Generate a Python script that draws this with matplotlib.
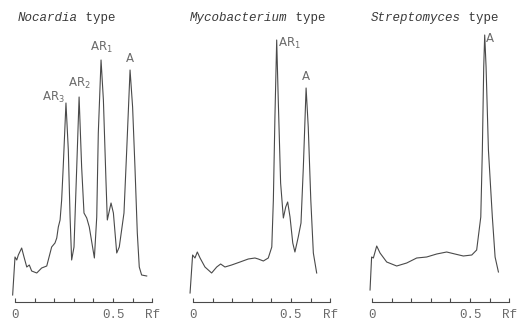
import numpy as np
import matplotlib.pyplot as plt

# Rf positions and detector signal (arbitrary units)
nocardia_rf = [-0.012, 0.0, 0.009, 0.017, 0.034, 0.046, 0.060, 0.073, 0.085, 0.111,
               0.136, 0.162, 0.187, 0.204, 0.213, 0.221, 0.230, 0.238, 0.246, 0.260,
               0.272, 0.281, 0.289, 0.301, 0.315, 0.327, 0.340, 0.352, 0.366, 0.379,
               0.405, 0.417, 0.425, 0.439, 0.451, 0.464, 0.471, 0.490, 0.502, 0.519,
               0.532, 0.556, 0.570, 0.587, 0.600, 0.612, 0.624, 0.634, 0.646, 0.672]
nocardia_sig = [7, 45, 42, 47, 54, 45, 35, 37, 31, 29,
                34, 36, 55, 59, 64, 75, 82, 102, 135, 199,
                152, 85, 42, 55, 135, 205, 135, 89, 84, 75,
                44, 85, 169, 242, 202, 122, 82, 99, 89, 49,
                55, 89, 152, 232, 195, 135, 69, 35, 27, 26]

myco_rf = [-0.015, -0.002, 0.010, 0.022, 0.036, 0.061, 0.095, 0.121, 0.141, 0.163,
           0.197, 0.240, 0.282, 0.316, 0.333, 0.359, 0.384, 0.402, 0.410, 0.418,
           0.427, 0.435, 0.447, 0.461, 0.473, 0.483, 0.495, 0.509, 0.520, 0.537,
           0.551, 0.563, 0.577, 0.588, 0.601, 0.614, 0.631]
myco_sig = [9, 47, 44, 50, 44, 35, 29, 35, 38, 35,
            37, 40, 43, 44, 43, 41, 44, 55, 102, 185,
            262, 202, 119, 84, 95, 100, 85, 59, 50, 65,
            79, 135, 214, 175, 102, 49, 29]

strepto_rf = [-0.010, -0.002, 0.007, 0.024, 0.041, 0.075, 0.126, 0.177, 0.228, 0.279,
              0.330, 0.381, 0.423, 0.466, 0.509, 0.534, 0.555, 0.563, 0.570, 0.575,
              0.582, 0.594, 0.614, 0.628, 0.645]
strepto_sig = [12, 45, 44, 56, 49, 40, 36, 39, 44, 45,
               48, 50, 48, 46, 47, 52, 85, 152, 235, 267,
               235, 152, 85, 45, 30]

genera = ["Nocardia", "Mycobacterium", "Streptomyces"]

# peak labels: (text, rf, signal, ha, va)
peaks = [
    [("AR$_3$", 0.255, 205, "right", "center"),
     ("AR$_2$", 0.327, 211, "center", "bottom"),
     ("AR$_1$", 0.439, 247, "center", "bottom"),
     ("A", 0.587, 237, "center", "bottom")],
    [("AR$_1$", 0.435, 266, "left", "top"),
     ("A", 0.577, 219, "center", "bottom")],
    [("A", 0.583, 270, "left", "top")],
]

W, H = 521, 322
fig = plt.figure(figsize=(W / 100, H / 100), dpi=100)
line_col = "#4a4a4a"
text_col = "#6a6a6a"

origins = [15, 193, 372]   # pixel position of Rf = 0 in each panel
scale = 196                # pixels per Rf unit
title_x = [18, 190, 371]

data = [(nocardia_rf, nocardia_sig), (myco_rf, myco_sig), (strepto_rf, strepto_sig)]

for i, (rf, sig) in enumerate(data):
    x0, x1 = -0.05, 0.74
    left = origins[i] + x0 * scale
    ax = fig.add_axes([left / W, 20 / H, (x1 - x0) * scale / W, 280 / H])
    ax.plot(rf, sig, color=line_col, lw=0.8, clip_on=False)
    ax.set_xlim(x0, x1)
    ax.set_ylim(0, 280)
    for s in ["top", "right", "left"]:
        ax.spines[s].set_visible(False)
    ax.spines["bottom"].set_bounds(0, 0.7)
    ax.spines["bottom"].set_color(line_col)
    ax.spines["bottom"].set_linewidth(0.8)
    ax.set_yticks([])
    ax.set_xticks([0, 0.1, 0.2, 0.3, 0.4, 0.5, 0.6, 0.7])
    ax.set_xticklabels(["0", "", "", "", "", "0.5", "", "Rf"],
                       family="Liberation Mono", fontsize=9, color=text_col)
    ax.tick_params(axis="x", direction="in", length=3, width=0.8,
                   color=line_col, pad=5)
    ax.patch.set_visible(False)

    for txt, px, py, ha, va in peaks[i]:
        ax.text(px, py, txt, ha=ha, va=va, fontsize=8.5, color=text_col)

    t = fig.text(title_x[i] / W, 1 - 18 / H, genera[i], family="Liberation Mono",
                 style="italic", fontsize=9, color="#3a3a3a", va="center")
    ax.annotate(" type", xy=(1, 0), xycoords=t, va="bottom", ha="left",
                family="Liberation Mono", fontsize=9, color="#3a3a3a")

fig.savefig("out.png", dpi=100)
